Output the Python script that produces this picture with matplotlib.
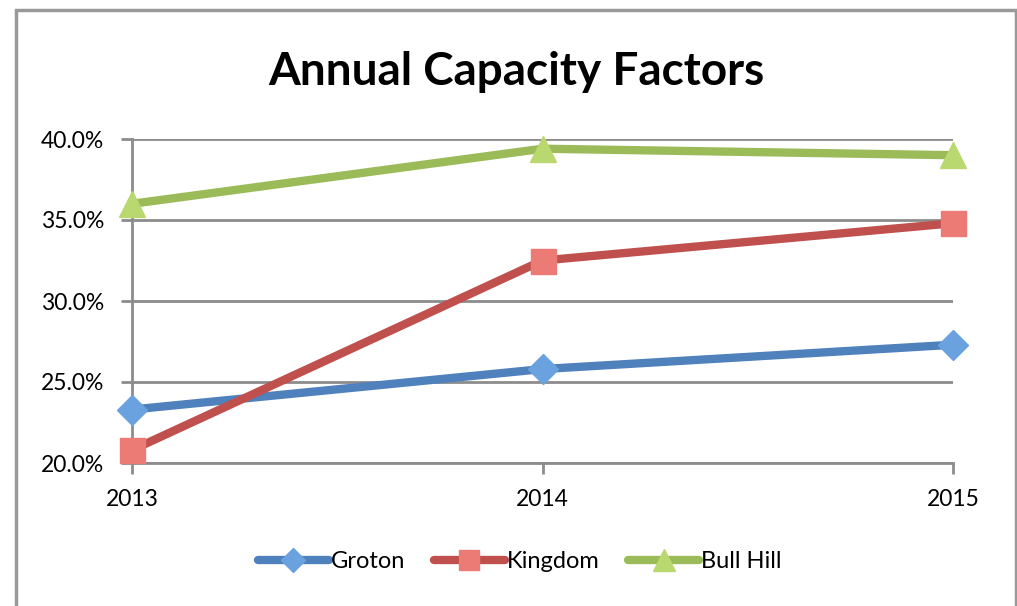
import matplotlib
matplotlib.use('Agg')
import matplotlib.pyplot as plt
from matplotlib.patches import Rectangle
from matplotlib.ticker import FuncFormatter
from matplotlib.lines import Line2D

years = [2013, 2014, 2015]
groton = [0.233, 0.258, 0.273]
kingdom = [0.208, 0.325, 0.348]
bull_hill = [0.360, 0.394, 0.390]
series_names = ['Groton', 'Kingdom', 'Bull Hill']

plt.rcParams['font.family'] = ['Lato', 'DejaVu Sans']

W, H = 1017, 606
fig = plt.figure(figsize=(W / 100, H / 100), dpi=100)

# chart border
fig.patches.append(Rectangle((16 / W, -0.1), 1000 / W, 1.1 - 10 / H, transform=fig.transFigure,
                             fill=False, edgecolor='#999999', linewidth=2.5))

ax = fig.add_axes([132 / W, 1 - 463 / H, (953 - 132) / W, (463 - 139) / H])

grid_col = '#8c8c8c'
styles = [
    (groton, '#4F81BD', '#6AA2E0', 'D', 15),
    (kingdom, '#C0504D', '#EC7A75', 's', 18),
    (bull_hill, '#9BBB59', '#B9D870', '^', 19),
]
handles = []
for (vals, col, face, mk, ms), name in zip(styles, series_names):
    ax.plot(years, vals, color=col, linewidth=6, marker=mk, markersize=ms,
            markerfacecolor=face, markeredgecolor=face, clip_on=False,
            solid_capstyle='round', label=name, zorder=3)
    handles.append(Line2D([0], [0], color=col, linewidth=6, marker=mk, markersize=ms * 0.8,
                          markerfacecolor=face, markeredgecolor=face, solid_capstyle='round'))

ax.set_xlim(2013, 2015)
ax.set_ylim(0.2, 0.4)
ax.set_xticks(years)
ax.set_yticks([0.20, 0.25, 0.30, 0.35, 0.40])
ax.yaxis.set_major_formatter(FuncFormatter(lambda v, p: f'{v * 100:.1f}%'))
ax.yaxis.grid(True, color=grid_col, linewidth=2)
ax.set_axisbelow(True)
for s in ['top', 'right']:
    ax.spines[s].set_visible(False)
for s in ['left', 'bottom']:
    ax.spines[s].set_color(grid_col)
    ax.spines[s].set_linewidth(2)
ax.tick_params(axis='both', direction='out', length=8, width=2, color=grid_col,
               labelsize=16.5)
ax.tick_params(axis='y', pad=12)
ax.tick_params(axis='x', pad=11)

fig.text(516 / W, 1 - 72 / H, 'Annual Capacity Factors', ha='center', va='center',
         fontsize=33, fontweight='bold')

fig.legend(handles, series_names, loc='center', bbox_to_anchor=(520 / W, 1 - 562 / H),
           ncol=3, frameon=False, fontsize=17, handlelength=3.0, handletextpad=0.1,
           columnspacing=1.2)

fig.savefig('out.png', dpi=100)
